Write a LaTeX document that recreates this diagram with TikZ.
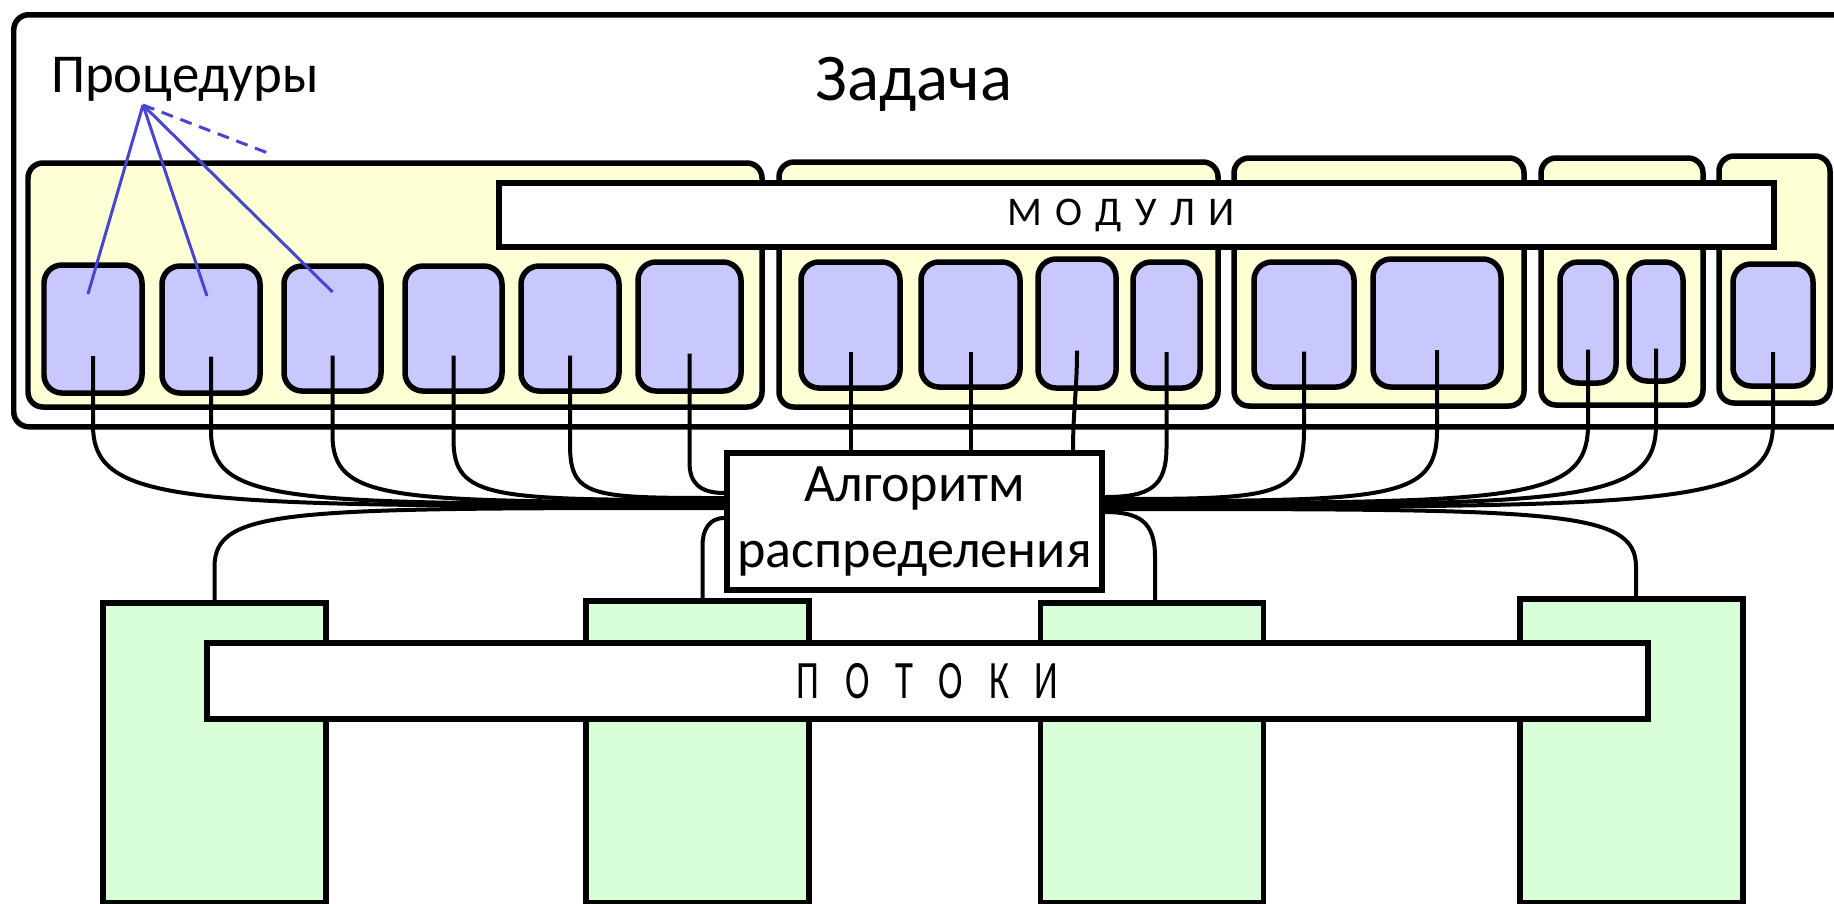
\documentclass[tikz,border=0pt]{standalone}
\usepackage{fontspec}
\usepackage{graphicx}
\setmainfont{Carlito}
\definecolor{modyellow}{HTML}{FFFFD5}
\definecolor{procblue}{HTML}{C8C8FF}
\definecolor{threadgreen}{HTML}{D9FFD9}
\definecolor{ptrblue}{HTML}{4646D2}

\begin{document}
\begin{tikzpicture}[
  box/.style={draw,line width=0.055cm,inner sep=0pt},
  modbox/.style={box,rounded corners=0.15cm,fill=modyellow},
  procbox/.style={box,rounded corners=0.18cm,fill=procblue},
  threadbox/.style={box,fill=threadgreen,anchor=north},
  banner/.style={box,fill=white},
  wire/.style={line width=0.04cm},
  pointer/.style={ptrblue,line width=0.03cm}]
  \useasboundingbox (0,0) rectangle (18.34,-9.03);
  \clip (0,0) rectangle (18.34,-9.03);
  % task frame and labels
  \node[box,rounded corners=0.15cm,anchor=north west,minimum width=18.5cm,minimum height=4.12cm]
        (task) at (0.11,-0.12) {};
  \node[font=\fontsize{19}{23}\selectfont,anchor=base] (tasklabel) at (9.14,-1.00) {Задача};
  \node[font=\fontsize{15.6}{18}\selectfont,anchor=base] (proclabel) at (1.85,-0.92) {Процедуры};
  % modules
  \foreach \name/\x/\y/\w/\h in {m1/3.95/-2.85/7.34/2.44, m2/9.985/-2.845/4.39/2.45,
      m3/13.79/-2.82/2.90/2.48, m4/16.22/-2.815/1.62/2.47, m5/17.745/-2.795/1.11/2.47}
    \node[modbox,minimum width=\w cm,minimum height=\h cm] (\name) at (\x,\y) {};
  \node[banner,minimum width=12.75cm,minimum height=0.64cm] (modules) at (11.365,-2.15) {};
  \node[font=\fontsize{11.6}{13}\selectfont] (modtext) at ([xshift=-0.155cm]modules.center)
        {М\kern.33em О\kern.33em Д\kern.33em У\kern.33em Л\kern.33em И};
  % procedures
  \foreach \name/\x/\y/\w/\h in {p1/0.93/-3.29/0.98/1.28, p2/2.11/-3.295/0.98/1.27,
      p3/3.325/-3.285/0.97/1.25, p4/4.535/-3.285/0.97/1.25, p5/5.70/-3.285/0.98/1.25,
      p6/6.895/-3.265/1.03/1.29, p7/8.505/-3.25/0.99/1.26, p8/9.705/-3.245/0.99/1.25,
      p9/10.77/-3.235/0.78/1.29, p10/11.665/-3.25/0.67/1.26, p11/13.04/-3.245/1.00/1.25,
      p12/14.37/-3.23/1.28/1.28, p13/15.88/-3.225/0.56/1.21, p14/16.56/-3.215/0.54/1.19,
      p15/17.73/-3.25/0.80/1.22}
    \node[procbox,minimum width=\w cm,minimum height=\h cm] (\name) at (\x,\y) {};
  % pointers from the label
  \coordinate (tip) at (1.43,-1.05);
  \coordinate (more) at (2.68,-1.53);
  \draw[pointer] (tip) -- ([xshift=-0.05cm,yshift=0.35cm]p1.center);
  \draw[pointer] (tip) -- ([xshift=-0.04cm,yshift=0.335cm]p2.center);
  \draw[pointer] (tip) -- ([yshift=0.365cm]p3.center);
  \draw[pointer,dash pattern=on 0.12cm off 0.08cm] (tip) -- (more);
  % threads
  \foreach \name/\x/\y/\h in {t1/2.145/-6.00/3.00, t2/6.975/-5.98/3.02,
      t3/11.52/-6.00/3.00, t4/16.315/-5.96/3.04}
    \node[threadbox,minimum width=2.23cm,minimum height=\h cm] (\name) at (\x,\y) {};
  \node[banner,minimum width=14.41cm,minimum height=0.76cm,font=\fontsize{15.4}{18}\selectfont]
        (threads) at (9.275,-6.81)
        {\scalebox{0.68}[1]{П\kern.7em О\kern.7em Т\kern.7em О\kern.7em К\kern.7em И}};
  % dispatcher
  \node[box,fill=white,minimum width=3.75cm,minimum height=1.37cm,align=center,
        font=\fontsize{15.4}{18.8}\selectfont] (algo) at (9.145,-5.215) {Алгоритм\\распределения};
  % wires, left side
  \foreach \p/\dv/\ye/\da/\db in {p1/0.69/0.155/0.81/5.39, p2/0.74/0.175/0.74/4.39,
      p3/0.79/0.195/0.67/3.35, p4/0.84/0.215/0.60/2.32, p5/0.89/0.235/0.53/1.33,
      p6/1.09/0.285/0.2/0.25}
    \draw[wire] ([yshift=-0.27cm]\p.center) -- ++(0,-\dv)
          to[out=-90,in=180,out distance=\da cm,in distance=\db cm] ([yshift=\ye cm]algo.west);
  % wires, right side
  \foreach \p/\dv/\ye/\da/\db in {p10/0.95/0.245/0.40/0.45, p11/0.78/0.225/0.69/1.72,
      p12/0.80/0.205/0.71/2.85, p13/0.75/0.185/0.78/4.13, p14/0.76/0.165/0.80/4.71,
      p15/0.71/0.145/0.84/5.70}
    \draw[wire] ([yshift=-0.27cm]\p.center) -- ++(0,-\dv)
          to[out=-90,in=0,out distance=\da cm,in distance=\db cm] ([yshift=\ye cm]algo.east);
  % wires, straight down
  \draw[wire] ([yshift=-0.27cm]p7.center) -- (p7.center |- algo.north);
  \draw[wire] ([yshift=-0.27cm]p8.center) -- (p8.center |- algo.north);
  \draw[wire] ([yshift=-0.27cm]p9.center) to[out=-90,in=90] ([xshift=1.585cm]algo.north);
  % wires to threads
  \foreach \t/\dx/\dv/\ye/\da/\db/\side/\ang in {t1/0/0.33/0.135/0.59/4.36/west/180,
      t2/0.05/0.53/0.035/0.15/0.15/west/180, t3/0.03/0.43/0.095/0.35/0.35/east/0,
      t4/0.045/0.29/0.125/0.58/4.5/east/0}
    \draw[wire] ([xshift=\dx cm]\t.north) -- ++(0,\dv)
          to[out=90,in=\ang,out distance=\da cm,in distance=\db cm] ([yshift=\ye cm]algo.\side);
\end{tikzpicture}
\end{document}
